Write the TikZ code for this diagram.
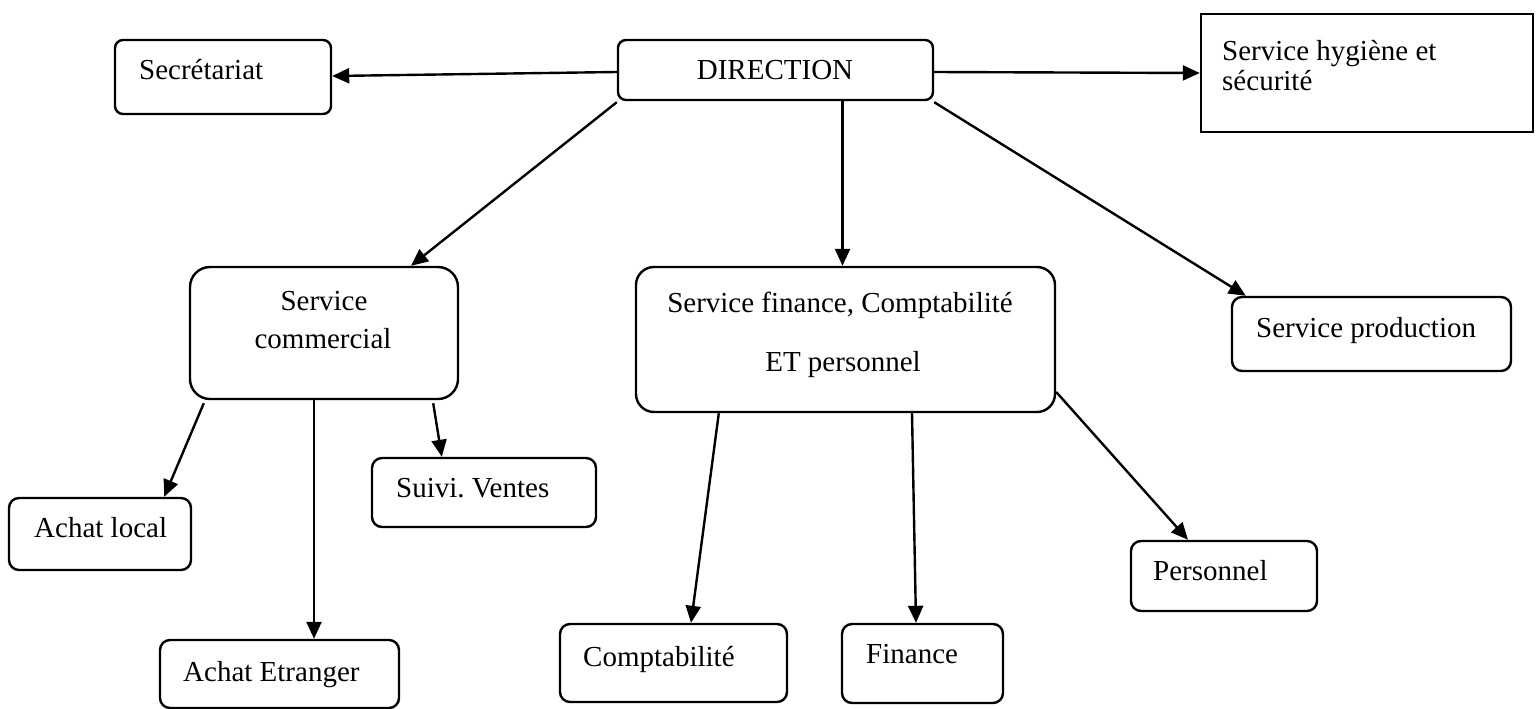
\documentclass[tikz,border=0pt]{standalone}
\usepackage{fontspec}
\setmainfont{Liberation Serif}
\frenchspacing
\usetikzlibrary{arrows.meta}
\tikzset{
  box/.style={draw=black, line width=2.4pt, fill=white, rectangle, inner sep=0pt},
  rbox/.style={box, rounded corners=#1},
  lbl/.style={inner sep=0pt, anchor=base west, font=\fontsize{29}{34}\selectfont},
  clbl/.style={inner sep=0pt, anchor=base, font=\fontsize{29}{34}\selectfont},
  conn/.style={line width=2.4pt, -{Triangle[length=17pt,width=15pt]}},
}
\begin{document}
\begin{tikzpicture}[x=1pt,y=-1pt]
\useasboundingbox (0,0) rectangle (1536,709);
% boxes: centre = ((x1+x2)/2,(y1+y2)/2)
\node[rbox=8pt, minimum width=216pt, minimum height=74pt] (sec) at (223,77) {};
\node[rbox=8pt, minimum width=315pt, minimum height=60pt] (dir) at (775.5,70) {};
\node[box, minimum width=332pt, minimum height=118pt] (hyg) at (1367,73) {};
\node[rbox=20pt, minimum width=268pt, minimum height=132pt] (com) at (324,333) {};
\node[rbox=18pt, minimum width=419pt, minimum height=145pt] (fin) at (845.5,339.5) {};
\node[rbox=10pt, minimum width=279pt, minimum height=74pt] (prod) at (1371.5,334) {};
\node[rbox=10pt, minimum width=182pt, minimum height=72pt] (local) at (100,534) {};
\node[rbox=10pt, minimum width=224pt, minimum height=69pt] (suivi) at (484,492.5) {};
\node[rbox=10pt, minimum width=239pt, minimum height=68pt] (etr) at (279.5,674) {};
\node[rbox=10pt, minimum width=227pt, minimum height=78pt] (compta) at (673.5,663) {};
\node[rbox=10pt, minimum width=161pt, minimum height=79pt] (finance) at (922.5,663.5) {};
\node[rbox=10pt, minimum width=186pt, minimum height=70pt] (pers) at (1224,576) {};
% texts
\node[lbl] (tsec) at (139,80) {Secrétariat};
\node[clbl] (tdir) at (775,79) {DIRECTION};
\node[lbl] (thyg1) at (1222,61) {Service hygiène et};
\node[lbl] (thyg2) at (1222,90) {sécurité};
\node[clbl] (tcom1) at (324,310) {Service};
\node[clbl] (tcom2) at (323,348) {commercial};
\node[clbl] (tfin1) at (840,312) {Service finance, Comptabilité};
\node[clbl] (tfin2) at (843,371) {ET personnel};
\node[lbl] (tprod) at (1256,337) {Service production};
\node[lbl] (tlocal) at (34,537) {Achat local};
\node[lbl] (tsuivi) at (396,497) {Suivi.\ Ventes};
\node[lbl] (tetr) at (183,681) {Achat Etranger};
\node[lbl] (tcompta) at (583,666) {Comptabilité};
\node[lbl] (tfinance) at (866,663) {Finance};
\node[lbl] (tpers) at (1153,580) {Personnel};
% connectors
\draw[conn] ([yshift=-2pt]dir.west) -- ([yshift=1pt]sec.east);
\draw[conn] ([yshift=-2pt]dir.east) -- (hyg.west);
\draw[conn] ([yshift=-1pt]dir.south west) -- ([xshift=87pt]com.north);
\draw[conn] ([xshift=-3pt]fin.north |- dir.south) -- ([xshift=-3pt]fin.north);
\draw[conn] ([yshift=-1pt]dir.south east) -- ([xshift=15pt]prod.north west);
\draw[conn] ([xshift=15pt,yshift=-3pt]com.south west) -- ([xshift=-28pt]local.north east);
\draw[conn] ([xshift=-10pt]com.south) -- ([xshift=-10pt]com.south |- etr.north);
\draw[conn] ([xshift=-26pt,yshift=-3pt]com.south east) -- ([xshift=71pt]suivi.north west);
\draw[conn] ([xshift=84pt]fin.south west) -- ([xshift=17.5pt]compta.north);
\draw[conn] ([xshift=66.5pt]fin.south) -- ([xshift=-6.5pt]finance.north);
\draw[conn] ([yshift=-52.5pt]fin.east) -- ([xshift=-36pt]pers.north);
\end{tikzpicture}
\end{document}
